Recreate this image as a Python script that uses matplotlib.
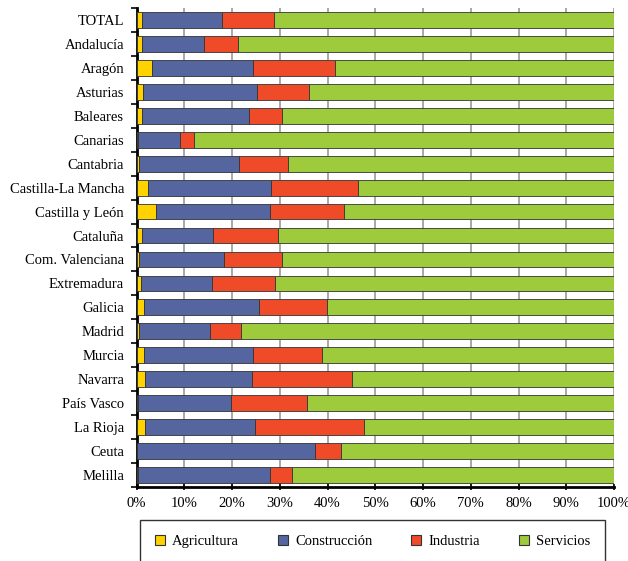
import numpy as np
import matplotlib.pyplot as plt

# reparto del empleo por sector y comunidad (%)
regiones = ["TOTAL", "Andalucía", "Aragón", "Asturias", "Baleares", "Canarias",
            "Cantabria", "Castilla-La Mancha", "Castilla y León", "Cataluña",
            "Com. Valenciana", "Extremadura", "Galicia", "Madrid", "Murcia",
            "Navarra", "País Vasco", "La Rioja", "Ceuta", "Melilla"]
agricultura = [1.1, 1.1, 3.2, 1.4, 1.1, 0.3, 0.6, 2.4, 4.0, 1.1,
               0.6, 0.9, 1.6, 0.6, 1.6, 1.8, 0.3, 1.8, 0.1, 0.4]
construccion = [16.8, 13.1, 21.2, 23.9, 22.5, 8.8, 20.8, 25.8, 24.0, 14.9,
                17.7, 14.9, 24.1, 14.7, 22.8, 22.3, 19.4, 23.0, 37.3, 27.6]
industria = [11.0, 7.1, 17.1, 10.8, 6.9, 2.9, 10.4, 18.2, 15.5, 13.7,
             12.2, 13.3, 14.2, 6.6, 14.4, 21.1, 16.0, 22.9, 5.5, 4.5]
servicios = [100 - a - c - i for a, c, i in zip(agricultura, construccion, industria)]

series = [("Agricultura", agricultura, "#FFD200"),
          ("Construcción", construccion, "#55659F"),
          ("Industria", industria, "#F04B28"),
          ("Servicios", servicios, "#9ECB3C")]

plt.rcParams['font.family'] = ['Liberation Serif', 'DejaVu Serif']
fs = 10.5

fig = plt.figure(figsize=(6.28, 5.61), dpi=100)
ax = fig.add_axes([136.5/628, 1 - 487/561, (614 - 136.5)/628, (487 - 8)/561])

y = np.arange(len(regiones))
left = np.zeros(len(regiones))
for nombre, vals, col in series:
    vals = np.array(vals)
    ax.barh(y, vals, left=left, height=0.66, color=col, edgecolor="#333333",
            linewidth=0.6, label=nombre, zorder=3)
    left += vals

ax.set_ylim(len(regiones) - 0.5, -0.5)
ax.set_xlim(0, 100)
ax.set_yticks(y)
ax.set_yticklabels(regiones, fontsize=fs)
ax.tick_params(axis='y', length=0, pad=9)
ax.set_yticks(np.arange(-0.5, len(regiones)), minor=True)
ax.tick_params(axis='y', which='minor', length=4, width=1.2, direction='out')
ax.set_xticks(np.arange(0, 101, 10))
ax.set_xticklabels([f"{v}%" for v in range(0, 101, 10)], fontsize=fs)
ax.tick_params(axis='x', length=4, width=1.2, direction='inout', pad=5)
ax.grid(axis='x', color='#999999', linewidth=1.2, zorder=0)
for s in ['top', 'right']:
    ax.spines[s].set_visible(False)
for s in ['left', 'bottom']:
    ax.spines[s].set_linewidth(2)
    ax.spines[s].set_color('black')

leg = fig.legend(loc='upper left', bbox_to_anchor=(140/628, 1 - 520/561, 465/628, 0),
                 mode='expand', ncol=4, fontsize=fs, fancybox=False,
                 edgecolor='black', handlelength=0.7, handleheight=0.7,
                 borderpad=1.0, borderaxespad=0, columnspacing=1.0,
                 handletextpad=0.5)
leg.get_frame().set_linewidth(1.0)
for h in leg.legend_handles:
    h.set_edgecolor('#333333')
    h.set_linewidth(0.8)

fig.savefig("out.png", dpi=100)
